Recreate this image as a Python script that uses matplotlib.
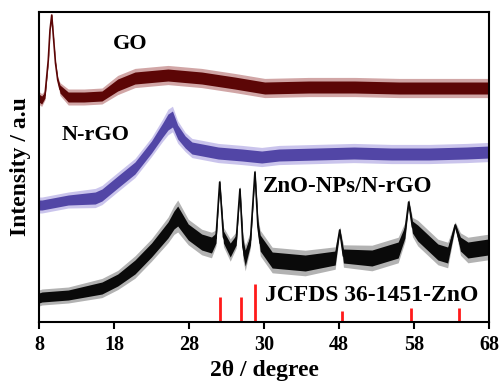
import numpy as np
import matplotlib
matplotlib.use("Agg")
import matplotlib.pyplot as plt

plt.rcParams['font.family'] = ['Liberation Serif', 'DejaVu Serif']
plt.rcParams['font.weight'] = 'bold'

# GO trace (2theta, intensity) and noise half-width
go_x = [8.0, 8.36, 8.8, 9.24, 9.47, 9.7, 9.96, 10.2, 10.5, 10.8, 11.9, 14.0, 16.4,
        18.5, 20.8, 25.2, 29.7, 34.1, 38.1, 44.0, 50.1, 56.0, 62.0, 68.0]
go_y = [224, 222, 227, 262, 292, 307, 282, 259, 242, 233, 225, 225, 226,
        237, 244, 247, 244, 239, 234, 235, 235, 234, 234, 234]
go_hw = [4, 4, 3, 1.5, 1, 1, 1, 1.5, 2, 4, 5, 5, 5,
         6, 6, 6, 6, 6, 6, 6, 6, 6, 6, 6]

# N-rGO trace
nrgo_x = [8.0, 8.4, 11.9, 15.5, 16.4, 18.5, 20.8, 23.0, 24.5, 25.2, 25.8, 26.5,
          27.5, 28.4, 31.9, 35.1, 37.7, 40.0, 45.0, 50.0, 55.0, 60.0, 65.0, 68.0]
nrgo_y = [117, 117, 122, 124, 127, 140, 154, 175, 192, 200, 203, 190,
          180, 174, 169, 167, 165, 167, 168, 169, 168, 168, 169, 170]
nrgo_hw = [5, 5, 5, 6, 6, 6, 6, 6, 7, 8, 8, 7,
           6, 6, 6, 6, 6, 6, 6, 6, 6, 6, 6, 6]

# ZnO-NPs/N-rGO trace
zno_x = [8.0, 8.4, 11.9, 16.4, 18.5, 20.8, 23.0, 25.2, 26.0, 26.5, 27.2, 27.9,
         29.7, 31.0, 31.6, 32.1, 32.6, 33.5, 34.3, 34.8, 35.2, 35.5, 36.2, 36.8,
         37.2, 37.5, 39.1, 43.5, 47.5, 48.1, 48.6, 52.4, 55.9, 56.8, 57.3, 57.8,
         58.5, 61.2, 62.5, 63.5, 64.2, 65.2, 67.9, 68.0]
zno_y = [24, 25, 27, 34, 42, 55, 72, 92, 102, 106, 98, 90,
         80, 77, 84, 140, 85, 72, 82, 133, 75, 64, 82, 150,
         95, 79, 62, 59, 64, 92, 66, 64, 72, 90, 120, 95,
         89, 70, 67, 97, 78, 72, 75, 76]
zno_hw = [5, 5, 5, 6, 6, 7, 7, 8, 9, 10, 9, 8,
          8, 8, 5, 2, 6, 7, 5, 2, 8, 8, 5, 2,
          6, 8, 8, 8, 7, 2, 7, 8, 8, 6, 2, 6,
          8, 8, 8, 2, 7, 8, 8, 8]

# JCPDS 36-1451 ZnO reference lines
ref_pos = [32.2, 35.0, 36.8, 48.4, 57.6, 64.0]
ref_height = [25, 25, 38, 11, 14, 14]

tick_pos = [8, 18, 28, 38, 48, 58, 68]
tick_labels = ["8", "18", "28", "30", "48", "58", "68"]

fig = plt.figure(figsize=(5.03, 3.85), dpi=100)
ax = fig.add_axes([0.0775, 0.1636, 0.8945, 0.8052])

series = [
    (go_x, go_y, go_hw, '#5c0606', '#9a3a3a'),
    (nrgo_x, nrgo_y, nrgo_hw, '#5246a6', '#8a7ed6'),
    (zno_x, zno_y, zno_hw, '#0a0a0a', '#555555'),
]
for xs, ys, hw, col, edge in series:
    xs = np.array(xs)
    ys = np.array(ys)
    hw = np.array(hw)
    # faint fringe for the noise spikes, then the dense core
    ax.fill_between(xs, ys - 1.6 * hw, ys + 1.6 * hw, color=edge, alpha=0.45, lw=0)
    ax.fill_between(xs, ys - hw, ys + hw, color=col, lw=0)
    ax.plot(xs, ys, color=col, lw=1.2)

ax.vlines(ref_pos, 0, ref_height, colors='#ff1a1a', lw=2)

ax.text(20.1, 278, "GO", fontsize=16, fontweight='bold', ha='center', va='center')
ax.text(15.5, 187, "N-rGO", fontsize=16, fontweight='bold', ha='center', va='center')
ax.text(37.9, 136, "ZnO-NPs/N-rGO", fontsize=16.5, fontweight='bold', ha='left', va='center')
ax.text(38.1, 27, "JCFDS 36-1451-ZnO", fontsize=17, fontweight='bold', ha='left', va='center')

ax.set_xlim(8, 68)
ax.set_ylim(0, 310)
ax.set_xticks(tick_pos)
ax.set_xticklabels(tick_labels, fontsize=14.5, fontweight='bold')
ax.set_yticks([])
ax.tick_params(axis='x', direction='out', length=5, width=1.5, pad=4)
for s in ax.spines.values():
    s.set_linewidth(1.5)

ax.set_xlabel("2θ / degree", fontsize=17, fontweight='bold', labelpad=4)
ax.set_ylabel("Intensity / a.u", fontsize=17, fontweight='bold', labelpad=6)

fig.savefig("out.png", dpi=100)
